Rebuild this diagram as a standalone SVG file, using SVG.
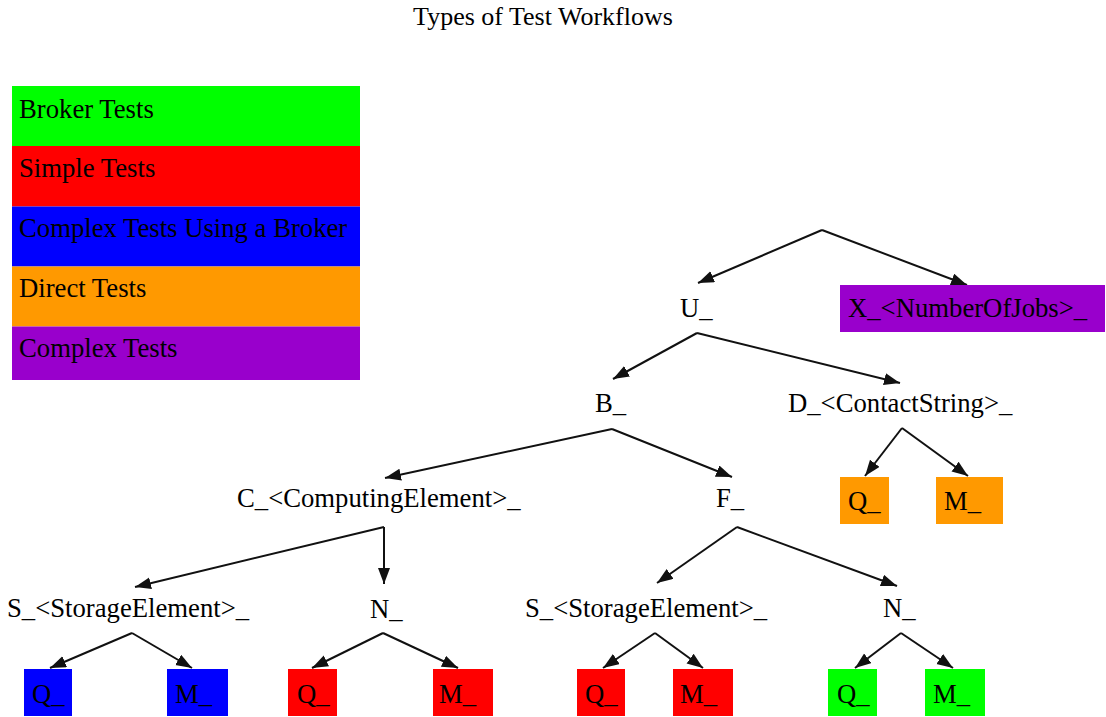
<svg xmlns="http://www.w3.org/2000/svg" width="1106" height="717" viewBox="0 0 1106 717">
<style>
text{font-family:"Liberation Serif","Times New Roman",serif;font-size:26.7px;fill:#000}
.t{font-size:26px}
.e{stroke:#111;stroke-width:2;fill:none;marker-end:url(#ah)}
.g{fill:#00ff00}.r{fill:#ff0000}.b{fill:#0000ff}.o{fill:#ff9900}.p{fill:#9900cc}
</style>
<defs>
<marker id="ah" markerUnits="userSpaceOnUse" markerWidth="17" markerHeight="13" refX="16" refY="6" orient="auto">
<path d="M0,0 L16,6 L0,12 z" fill="#111"/>
</marker>
</defs>
<rect width="1106" height="717" fill="#fff"/>
<text class="t" x="543" y="25" text-anchor="middle">Types of Test Workflows</text>
<g id="legend">
<rect class="g" x="12" y="86" width="348" height="60"/>
<rect class="r" x="12" y="146" width="348" height="60.5"/>
<rect class="b" x="12" y="206.5" width="348" height="60"/>
<rect class="o" x="12" y="266.5" width="348" height="60"/>
<rect class="p" x="12" y="326.5" width="348" height="53.5"/>
<text x="19" y="118">Broker Tests</text>
<text x="19" y="177">Simple Tests</text>
<text x="19" y="237">Complex Tests Using a Broker</text>
<text x="19" y="297">Direct Tests</text>
<text x="19" y="357">Complex Tests</text>
</g>
<g id="edges">
<line class="e" x1="822" y1="230" x2="698" y2="283"/>
<line class="e" x1="822" y1="230" x2="967" y2="285"/>
<line class="e" x1="697" y1="333" x2="613" y2="379"/>
<line class="e" x1="697" y1="333" x2="900" y2="383"/>
<line class="e" x1="612" y1="429" x2="385" y2="478"/>
<line class="e" x1="612" y1="429" x2="732" y2="477"/>
<line class="e" x1="902" y1="428" x2="865" y2="476"/>
<line class="e" x1="902" y1="428" x2="968" y2="476"/>
<line class="e" x1="384" y1="527" x2="135" y2="587"/>
<line class="e" x1="384" y1="527" x2="384" y2="584"/>
<line class="e" x1="737" y1="527" x2="657" y2="583"/>
<line class="e" x1="737" y1="527" x2="897" y2="586"/>
<line class="e" x1="132" y1="633" x2="50" y2="668"/>
<line class="e" x1="132" y1="633" x2="192" y2="668"/>
<line class="e" x1="383" y1="633" x2="312" y2="668"/>
<line class="e" x1="383" y1="633" x2="458" y2="668"/>
<line class="e" x1="655" y1="633" x2="603" y2="668"/>
<line class="e" x1="655" y1="633" x2="703" y2="668"/>
<line class="e" x1="901" y1="633" x2="855" y2="668"/>
<line class="e" x1="901" y1="633" x2="953" y2="668"/>
</g>
<g id="U"><text x="680" y="317">U_</text></g>
<g id="X"><rect class="p" x="840" y="285" width="265" height="47"/><text x="848" y="317">X_&lt;NumberOfJobs&gt;_</text></g>
<g id="B"><text x="595" y="412">B_</text></g>
<g id="D"><text x="788" y="412">D_&lt;ContactString&gt;_</text></g>
<g id="DQ"><rect class="o" x="840" y="477" width="49" height="47"/><text x="848" y="510">Q_</text></g>
<g id="DM"><rect class="o" x="936" y="477" width="67" height="47"/><text x="944" y="510">M_</text></g>
<g id="C"><text x="237" y="507">C_&lt;ComputingElement&gt;_</text></g>
<g id="F"><text x="716" y="507">F_</text></g>
<g id="S1"><text x="7" y="617">S_&lt;StorageElement&gt;_</text></g>
<g id="N1"><text x="370" y="618">N_</text></g>
<g id="S2"><text x="525" y="617">S_&lt;StorageElement&gt;_</text></g>
<g id="N2"><text x="883" y="617">N_</text></g>
<g id="S1Q"><rect class="b" x="24" y="669" width="48" height="47"/><text x="32" y="703">Q_</text></g>
<g id="S1M"><rect class="b" x="167" y="669" width="61" height="47"/><text x="175" y="703">M_</text></g>
<g id="N1Q"><rect class="r" x="288" y="669" width="49" height="47"/><text x="297" y="703">Q_</text></g>
<g id="N1M"><rect class="r" x="433" y="669" width="60" height="47"/><text x="439" y="703">M_</text></g>
<g id="S2Q"><rect class="r" x="577" y="669" width="48" height="47"/><text x="585" y="703">Q_</text></g>
<g id="S2M"><rect class="r" x="673" y="669" width="60" height="47"/><text x="680" y="703">M_</text></g>
<g id="N2Q"><rect class="g" x="828" y="669" width="49" height="47"/><text x="837" y="703">Q_</text></g>
<g id="N2M"><rect class="g" x="925" y="669" width="60" height="47"/><text x="933" y="703">M_</text></g>
</svg>
